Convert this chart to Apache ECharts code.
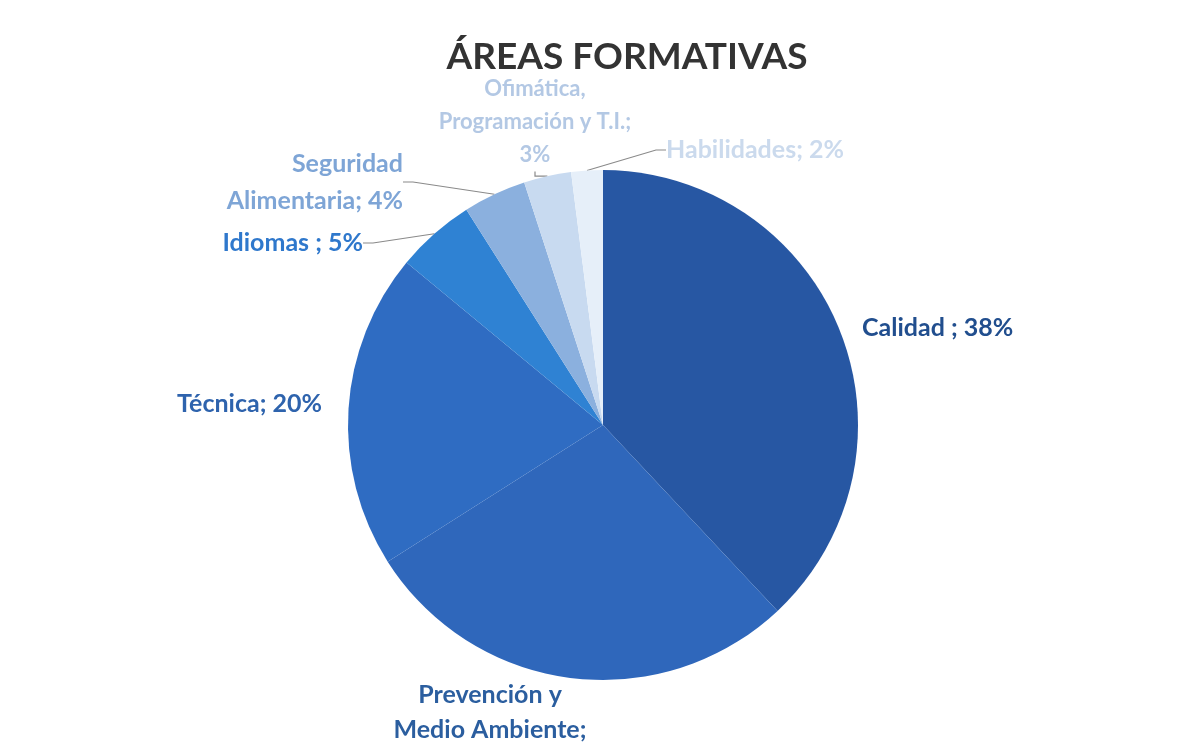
<!DOCTYPE html>
<html>
<head>
<meta charset="utf-8">
<script src="https://cdn.jsdelivr.net/npm/echarts@6/dist/echarts.min.js"></script>
<style>
  html, body { margin: 0; padding: 0; background: #fff; }
  #chart { width: 1187px; height: 753px; }
</style>
</head>
<body>
<div id="chart"></div>
<script>
// datos del gráfico
const categories = [
  "Calidad ",
  "Prevención y\nMedio Ambiente",
  "Técnica",
  "Idiomas ",
  "Seguridad\nAlimentaria",
  "Ofimática,\nProgramación y T.I.",
  "Habilidades"
];
const values = [38, 28, 20, 5, 4, 3, 2];

// colores de sectores y etiquetas
const sliceColors = ["#2757a3", "#2f67bb", "#2f6cc2", "#2f82d3", "#8bb0de", "#c8daf0", "#e6eff9"];
const labelColors = ["#214e8e", "#2b5e9f", "#2e63ad", "#2f78cc", "#7ea5d6", "#b3c8e4", "#cbdaed"];

// posiciones de etiquetas (x, y, align)
const labelPos = [
  [862, 328, "left"],
  [490, 730, "center"],
  [322, 404, "right"],
  [363, 243, "right"],
  [403, 182, "right"],
  [535, 122, "center"],
  [666, 150, "left"]
];
const labelFmt = ["{b}; {c}%", "{b};\n{c}%", "{b}; {c}%", "{b}; {c}%", "{b}; {c}%", "{b};\n{c}%", "{b}; {c}%"];

const chart = echarts.init(document.getElementById("chart"));

const data = categories.map((name, i) => ({
  name: name,
  value: values[i],
  itemStyle: { color: sliceColors[i] },
  label: {
    color: labelColors[i],
    formatter: labelFmt[i],
    align: labelPos[i][2],
    fontSize: i === 5 ? 22 : 25,
    lineHeight: i === 5 ? 33 : (i === 4 ? 37 : 35)
  },
  labelLine: { show: i >= 3 }
}));

chart.setOption({
  backgroundColor: "#ffffff",
  title: {
    text: "ÁREAS FORMATIVAS",
    left: 622,
    top: 34,
    textAlign: "center",
    textStyle: {
      fontFamily: "Lato",
      fontSize: 37,
      fontWeight: "bold",
      color: "#333333"
    }
  },
  series: [
    {
      type: "pie",
      center: [603, 425],
      radius: 255,
      startAngle: 90,
      clockwise: true,
      animation: false,
      data: data,
      label: {
        show: true,
        position: "outside",
        fontFamily: "Lato",
        fontWeight: "bold"
      },
      labelLine: {
        show: true,
        length: 10,
        length2: 10,
        lineStyle: { color: "#8a8a8a", width: 1.2 }
      },
      labelLayout: function (params) {
        const p = labelPos[params.dataIndex];
        return {
          x: p[0],
          y: p[1],
          align: p[2],
          verticalAlign: "middle",
          hideOverlap: false
        };
      }
    }
  ]
});
</script>
</body>
</html>
